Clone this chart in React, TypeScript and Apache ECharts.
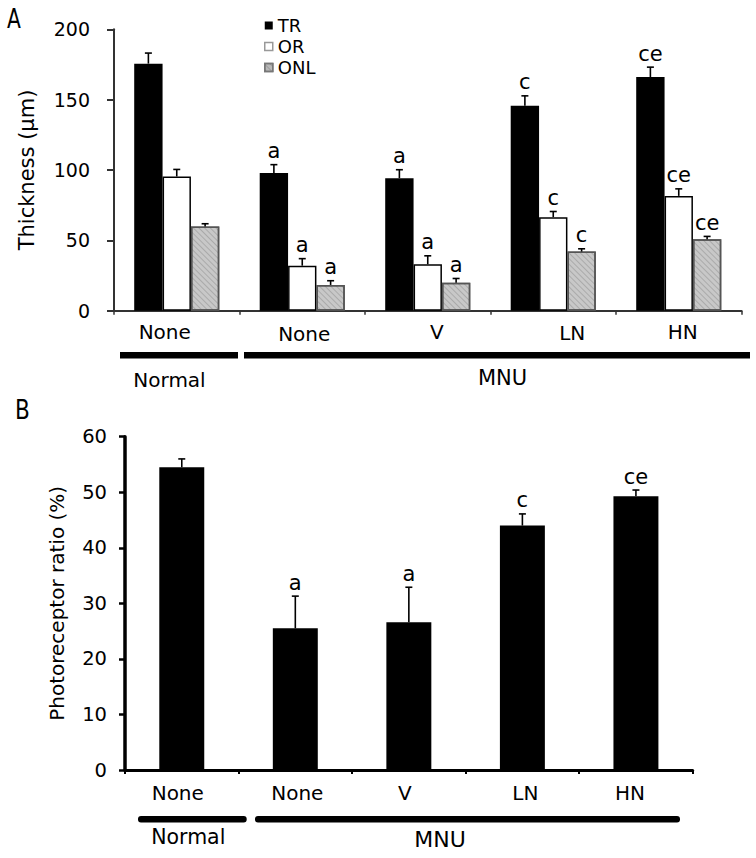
import React, { useEffect, useRef } from "react";
import * as echarts from "echarts";

// ---------- data ----------
const topCategories = ["None", "None", "V", "LN", "HN"];
const trValues = [175.6, 97.8, 94.2, 145.7, 166.1];
const trErrors = [7.5, 6, 6, 7, 7];
const trMarks = ["", "a", "a", "c", "ce"];
const orValues = [95.4, 32, 33, 66.5, 81.6];
const orErrors = [5, 5, 6, 4, 5];
const orMarks = ["", "a", "a", "c", "ce"];
const onlValues = [59.8, 18.3, 19.9, 42, 50.8];
const onlErrors = [2, 3, 3, 2, 2];
const onlMarks = ["", "a", "a", "c", "ce"];

const bottomCategories = ["None", "None", "V", "LN", "HN"];
const ratioValues = [54.5, 25.5, 26.6, 44.0, 49.3];
const ratioErrors = [1.5, 5.8, 6.3, 2.1, 1.1];
const ratioMarks = ["", "a", "a", "c", "ce"];

const groupNames = ["Normal", "MNU"];

// ---------- layout helpers ----------
const topLabelShift = [-12, 2, 9, 19, 4];
const topLabelDrop = [0, 4, 0, 2, 0];
const bottomLabelShift = [-4, 2, -4, 3, -6];
const bottomLabelDrop = [0, 0, 0, 0, 0];

const FONT = "'DejaVu Sans', 'Liberation Sans', sans-serif";

function richFor(shifts: number[], drops: number[], size: number) {
  const rich: any = {};
  shifts.forEach((d, i) => {
    rich["t" + i] = {
      fontSize: size,
      fontFamily: FONT,
      color: "#000",
      lineHeight: 24,
      padding: [drops[i], d < 0 ? -2 * d : 0, 0, d > 0 ? 2 * d : 0],
    };
  });
  return rich;
}

function errorSeries(
  name: string,
  values: number[],
  errors: number[],
  marks: string[],
  axisIndex: number,
  offsetFrac: number
) {
  return {
    type: "custom",
    name,
    xAxisIndex: axisIndex,
    yAxisIndex: axisIndex,
    z: 5,
    silent: true,
    data: values.map((v, i) => [i, v, errors[i]]),
    encode: { x: 0, y: 1 },
    renderItem: (params: any, api: any) => {
      const i = api.value(0);
      const v = api.value(1);
      const e = api.value(2);
      const base = api.coord([i, v]);
      const top = api.coord([i, v + e]);
      const band = api.size([1, 0])[0];
      const x = base[0] + offsetFrac * band;
      const children: any[] = [
        {
          type: "line",
          shape: { x1: x, y1: base[1], x2: x, y2: top[1] },
          style: { stroke: "#000", lineWidth: 1.6 },
        },
        {
          type: "line",
          shape: { x1: x - 3.5, y1: top[1], x2: x + 3.5, y2: top[1] },
          style: { stroke: "#000", lineWidth: 1.6 },
        },
      ];
      if (marks[i]) {
        children.push({
          type: "text",
          x,
          y: top[1] - 3,
          style: {
            text: marks[i],
            fontSize: 21,
            fontFamily: FONT,
            fill: "#000",
            align: "center",
            verticalAlign: "bottom",
          },
        });
      }
      return { type: "group", children };
    },
  };
}

export default function App() {
  const ref = useRef<HTMLDivElement>(null);

  useEffect(() => {
    if (!ref.current) return;
    const chart = echarts.init(ref.current, undefined, { renderer: "svg" });

    const barFrac = 0.226;

    const option: any = {
      animation: false,
      backgroundColor: "#fff",
      textStyle: { fontFamily: FONT },
      legend: {
        orient: "vertical",
        left: 264,
        top: 15,
        padding: 0,
        itemWidth: 8,
        itemHeight: 8,
        itemGap: 0,
        textStyle: { fontSize: 18, fontFamily: FONT, color: "#000", lineHeight: 21 },
        data: [
          { name: "TR", icon: "rect", itemStyle: { color: "#000", borderWidth: 0 } },
          { name: "OR", icon: "rect", itemStyle: { color: "#fff", borderColor: "#999", borderWidth: 1.5 } },
          { name: "ONL", icon: "rect", itemStyle: { color: "#b8b8b8", borderColor: "#777", borderWidth: 1.5 } },
        ],
      },
      grid: [
        { left: 114, top: 29.3, width: 627.5, height: 281.4 },
        { left: 125, top: 436.7, width: 567.7, height: 333.3 },
      ],
      xAxis: [
        {
          type: "category",
          gridIndex: 0,
          data: topCategories,
          axisLine: { lineStyle: { color: "#333", width: 2 } },
          axisTick: { show: true, length: 4, lineStyle: { color: "#333", width: 1.5 } },
          axisLabel: {
            margin: 9,
            interval: 0,
            formatter: (value: string, index: number) => `{t${index}|${value}}`,
            rich: richFor(topLabelShift, topLabelDrop, 20),
          },
        },
        {
          type: "category",
          gridIndex: 1,
          data: bottomCategories,
          axisLine: { lineStyle: { color: "#000", width: 3 } },
          axisTick: { show: true, length: 4, lineStyle: { color: "#000", width: 2 } },
          axisLabel: {
            margin: 11,
            interval: 0,
            formatter: (value: string, index: number) => `{t${index}|${value}}`,
            rich: richFor(bottomLabelShift, bottomLabelDrop, 20),
          },
        },
      ],
      yAxis: [
        {
          type: "value",
          gridIndex: 0,
          min: 0,
          max: 200,
          interval: 50,
          axisLine: { show: true, lineStyle: { color: "#333", width: 2 } },
          axisTick: { show: true, length: 7, lineStyle: { color: "#333", width: 2 } },
          splitLine: { show: false },
          axisLabel: { fontSize: 19, color: "#000", margin: 24, fontFamily: FONT },
          name: "Thickness (μm)",
          nameLocation: "middle",
          nameGap: 77,
          nameTextStyle: { fontSize: 21, color: "#000", fontFamily: FONT },
        },
        {
          type: "value",
          gridIndex: 1,
          min: 0,
          max: 60,
          interval: 10,
          axisLine: { show: true, lineStyle: { color: "#000", width: 3.5 } },
          axisTick: { show: true, length: 6, lineStyle: { color: "#000", width: 2.5 } },
          splitLine: { show: false },
          axisLabel: { fontSize: 19.5, color: "#000", margin: 18, fontFamily: FONT },
          name: "Photoreceptor ratio (%)",
          nameLocation: "middle",
          nameGap: 58,
          nameTextStyle: { fontSize: 20, color: "#000", fontFamily: FONT },
        },
      ],
      series: [
        {
          type: "bar",
          name: "TR",
          xAxisIndex: 0,
          yAxisIndex: 0,
          data: trValues,
          barWidth: barFrac * 100 + "%",
          barGap: "0%",
          itemStyle: { color: "#000" },
        },
        {
          type: "bar",
          name: "OR",
          xAxisIndex: 0,
          yAxisIndex: 0,
          data: orValues,
          barWidth: barFrac * 100 + "%",
          barGap: "0%",
          itemStyle: { color: "#fff", borderColor: "#000", borderWidth: 1.5 },
        },
        {
          type: "bar",
          name: "ONL",
          xAxisIndex: 0,
          yAxisIndex: 0,
          data: onlValues,
          barWidth: barFrac * 100 + "%",
          barGap: "0%",
          itemStyle: {
            color: "#c8c8c8",
            borderColor: "#555",
            borderWidth: 1.5,
            decal: {
              symbol: "rect",
              symbolSize: 1,
              dashArrayX: [1, 0],
              dashArrayY: [1, 3],
              rotation: Math.PI / 4,
              color: "rgba(0,0,0,0.15)",
            },
          },
        },
        errorSeries("TR-err", trValues, trErrors, trMarks, 0, -barFrac),
        errorSeries("OR-err", orValues, orErrors, orMarks, 0, 0),
        errorSeries("ONL-err", onlValues, onlErrors, onlMarks, 0, barFrac),
        {
          type: "bar",
          name: "Ratio",
          xAxisIndex: 1,
          yAxisIndex: 1,
          data: ratioValues,
          barWidth: "39.6%",
          itemStyle: { color: "#000" },
        },
        errorSeries("Ratio-err", ratioValues, ratioErrors, ratioMarks, 1, 0),
      ],
      graphic: [
        {
          type: "text",
          x: 14,
          y: 19,
          scaleX: 0.75,
          style: { text: "A", fontSize: 27, fontFamily: FONT, fill: "#000", align: "center", verticalAlign: "middle" },
        },
        {
          type: "text",
          x: 22.5,
          y: 410,
          scaleX: 0.8,
          style: { text: "B", fontSize: 27, fontFamily: FONT, fill: "#000", align: "center", verticalAlign: "middle" },
        },
        // panel A group brackets
        { type: "rect", shape: { x: 120, y: 352, width: 118, height: 6.5 }, style: { fill: "#000" } },
        { type: "rect", shape: { x: 244, y: 352, width: 506, height: 6.5 }, style: { fill: "#000" } },
        {
          type: "text",
          x: 169.5,
          y: 380,
          style: { text: groupNames[0], fontSize: 20, fontFamily: FONT, fill: "#000", align: "center", verticalAlign: "middle" },
        },
        {
          type: "text",
          x: 502.5,
          y: 378,
          style: { text: groupNames[1], fontSize: 21, fontFamily: FONT, fill: "#000", align: "center", verticalAlign: "middle" },
        },
        // panel B group brackets
        { type: "rect", shape: { x: 138, y: 816, width: 108.7, height: 6.5, r: 3 }, style: { fill: "#000" } },
        { type: "rect", shape: { x: 255, y: 816, width: 425, height: 6.5, r: 3 }, style: { fill: "#000" } },
        {
          type: "text",
          x: 188.3,
          y: 837,
          style: { text: groupNames[0], fontSize: 20.5, fontFamily: FONT, fill: "#000", align: "center", verticalAlign: "middle" },
        },
        {
          type: "text",
          x: 440,
          y: 839,
          style: { text: groupNames[1], fontSize: 22, fontFamily: FONT, fill: "#000", align: "center", verticalAlign: "middle" },
        },
      ],
    };

    chart.setOption(option);
    return () => chart.dispose();
  }, []);

  return (
    <div
      ref={ref}
      style={{ position: "absolute", left: 0, top: 0, width: 756, height: 858, background: "#fff" }}
    />
  );
}
